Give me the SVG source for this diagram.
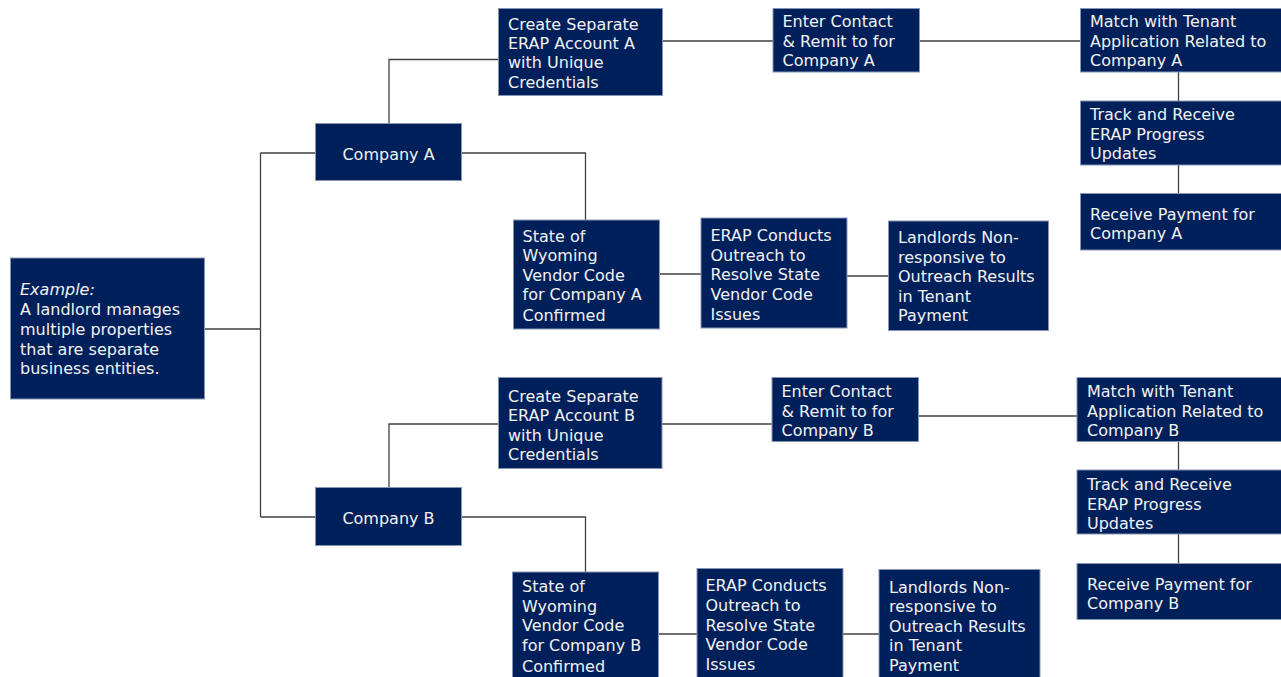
<svg xmlns="http://www.w3.org/2000/svg" width="1281" height="677" viewBox="0 0 1281 677">
<style>
.box{fill:#00205b;stroke:#8796b6;stroke-width:1}
.t{font-family:"DejaVu Sans",Verdana,sans-serif;font-size:16px;fill:#f2f2f2}
.c{fill:none;stroke:#404040;stroke-width:1.3}
</style>
<rect width="1281" height="677" fill="#ffffff"/>
<g id="connectors">
<path class="c" d="M204,329 H260.5 M260.5,153 V517 M260.5,153 H315 M260.5,517 H315"/>
<path class="c" d="M389,123 V59.5 H498 M462,153 H585.5 V220"/>
<path class="c" d="M663,41 H773 M920,41 H1080 M1178.5,72 V101 M1178.5,165 V193"/>
<path class="c" d="M660,274 H701 M847,276 H888"/>
<path class="c" d="M389,487 V424 H498 M462,517 H585.5 V572"/>
<path class="c" d="M662,424 H772 M919,416 H1077 M1178.5,442 V470 M1178.5,534 V563"/>
<path class="c" d="M658,634 H697 M843,634 H879"/>
</g>
<g id="example">
<rect class="box" x="10.5" y="258" width="194" height="141"/>
<text class="t" x="20"><tspan x="20" y="295" font-style="italic">Example:</tspan><tspan x="20" y="315">A landlord manages</tspan><tspan x="20" y="335">multiple properties</tspan><tspan x="20" y="354.5">that are separate</tspan><tspan x="20" y="374">business entities.</tspan></text>
</g>
<g id="companyA">
<rect class="box" x="315.5" y="123.5" width="146" height="57"/>
<text class="t" x="388.5" y="160" text-anchor="middle">Company A</text>
</g>
<g id="createA">
<rect class="box" x="498.5" y="8.5" width="164" height="87"/>
<text class="t"><tspan x="508" y="29.5">Create Separate</tspan><tspan x="508" y="49">ERAP Account A</tspan><tspan x="508" y="68">with Unique</tspan><tspan x="508" y="87.5">Credentials</tspan></text>
</g>
<g id="enterA">
<rect class="box" x="773" y="8.5" width="146.5" height="63.5"/>
<text class="t"><tspan x="782.5" y="27">Enter Contact</tspan><tspan x="782.5" y="46.5">&amp; Remit to for</tspan><tspan x="782.5" y="66">Company A</tspan></text>
</g>
<g id="matchA">
<rect class="box" x="1080.5" y="8.5" width="202" height="63.5"/>
<text class="t"><tspan x="1090" y="27">Match with Tenant</tspan><tspan x="1090" y="46.5">Application Related to</tspan><tspan x="1090" y="66">Company A</tspan></text>
</g>
<g id="trackA">
<rect class="box" x="1080.5" y="101" width="202" height="64"/>
<text class="t"><tspan x="1090" y="120">Track and Receive</tspan><tspan x="1090" y="139.5">ERAP Progress</tspan><tspan x="1090" y="158.5">Updates</tspan></text>
</g>
<g id="receiveA">
<rect class="box" x="1080.5" y="193.5" width="202" height="56.5"/>
<text class="t"><tspan x="1090" y="219.5">Receive Payment for</tspan><tspan x="1090" y="238.5">Company A</tspan></text>
</g>
<g id="stateA">
<rect class="box" x="513.5" y="220" width="146" height="109"/>
<text class="t"><tspan x="522.5" y="241.5">State of</tspan><tspan x="522.5" y="261">Wyoming</tspan><tspan x="522.5" y="280.5">Vendor Code</tspan><tspan x="522.5" y="300">for Company A</tspan><tspan x="522.5" y="321">Confirmed</tspan></text>
</g>
<g id="outreachA">
<rect class="box" x="701" y="218" width="146" height="110"/>
<text class="t"><tspan x="710.5" y="240.5">ERAP Conducts</tspan><tspan x="710.5" y="260.5">Outreach to</tspan><tspan x="710.5" y="280">Resolve State</tspan><tspan x="710.5" y="300">Vendor Code</tspan><tspan x="710.5" y="319.5">Issues</tspan></text>
</g>
<g id="landlordsA">
<rect class="box" x="888.5" y="221" width="160" height="109.5"/>
<text class="t"><tspan x="898" y="243">Landlords Non-</tspan><tspan x="898" y="262.5">responsive to</tspan><tspan x="898" y="282">Outreach Results</tspan><tspan x="898" y="301.5">in Tenant</tspan><tspan x="898" y="321">Payment</tspan></text>
</g>
<g id="companyB">
<rect class="box" x="315.5" y="487.5" width="146" height="58"/>
<text class="t" x="388.5" y="523.5" text-anchor="middle">Company B</text>
</g>
<g id="createB">
<rect class="box" x="498.5" y="377.5" width="163.5" height="91"/>
<text class="t"><tspan x="508" y="401.5">Create Separate</tspan><tspan x="508" y="421">ERAP Account B</tspan><tspan x="508" y="440.5">with Unique</tspan><tspan x="508" y="460">Credentials</tspan></text>
</g>
<g id="enterB">
<rect class="box" x="772" y="377.5" width="146.5" height="64"/>
<text class="t"><tspan x="781.5" y="397">Enter Contact</tspan><tspan x="781.5" y="416.5">&amp; Remit to for</tspan><tspan x="781.5" y="436">Company B</tspan></text>
</g>
<g id="matchB">
<rect class="box" x="1077" y="377.5" width="205.5" height="64"/>
<text class="t"><tspan x="1087" y="397">Match with Tenant</tspan><tspan x="1087" y="416.5">Application Related to</tspan><tspan x="1087" y="436">Company B</tspan></text>
</g>
<g id="trackB">
<rect class="box" x="1077" y="470" width="205.5" height="64"/>
<text class="t"><tspan x="1087" y="490">Track and Receive</tspan><tspan x="1087" y="509.5">ERAP Progress</tspan><tspan x="1087" y="528.5">Updates</tspan></text>
</g>
<g id="receiveB">
<rect class="box" x="1077" y="563.5" width="205.5" height="56"/>
<text class="t"><tspan x="1087" y="589.5">Receive Payment for</tspan><tspan x="1087" y="608.5">Company B</tspan></text>
</g>
<g id="stateB">
<rect class="box" x="512.5" y="572" width="146" height="110"/>
<text class="t"><tspan x="522" y="592">State of</tspan><tspan x="522" y="611.5">Wyoming</tspan><tspan x="522" y="631">Vendor Code</tspan><tspan x="522" y="650.5">for Company B</tspan><tspan x="522" y="671.5">Confirmed</tspan></text>
</g>
<g id="outreachB">
<rect class="box" x="697" y="568.5" width="146" height="115"/>
<text class="t"><tspan x="705.5" y="591">ERAP Conducts</tspan><tspan x="705.5" y="611">Outreach to</tspan><tspan x="705.5" y="630.5">Resolve State</tspan><tspan x="705.5" y="650">Vendor Code</tspan><tspan x="705.5" y="669.5">Issues</tspan></text>
</g>
<g id="landlordsB">
<rect class="box" x="879" y="569.5" width="161" height="113"/>
<text class="t"><tspan x="889" y="592.5">Landlords Non-</tspan><tspan x="889" y="612">responsive to</tspan><tspan x="889" y="631.5">Outreach Results</tspan><tspan x="889" y="651">in Tenant</tspan><tspan x="889" y="670.5">Payment</tspan></text>
</g>
</svg>
